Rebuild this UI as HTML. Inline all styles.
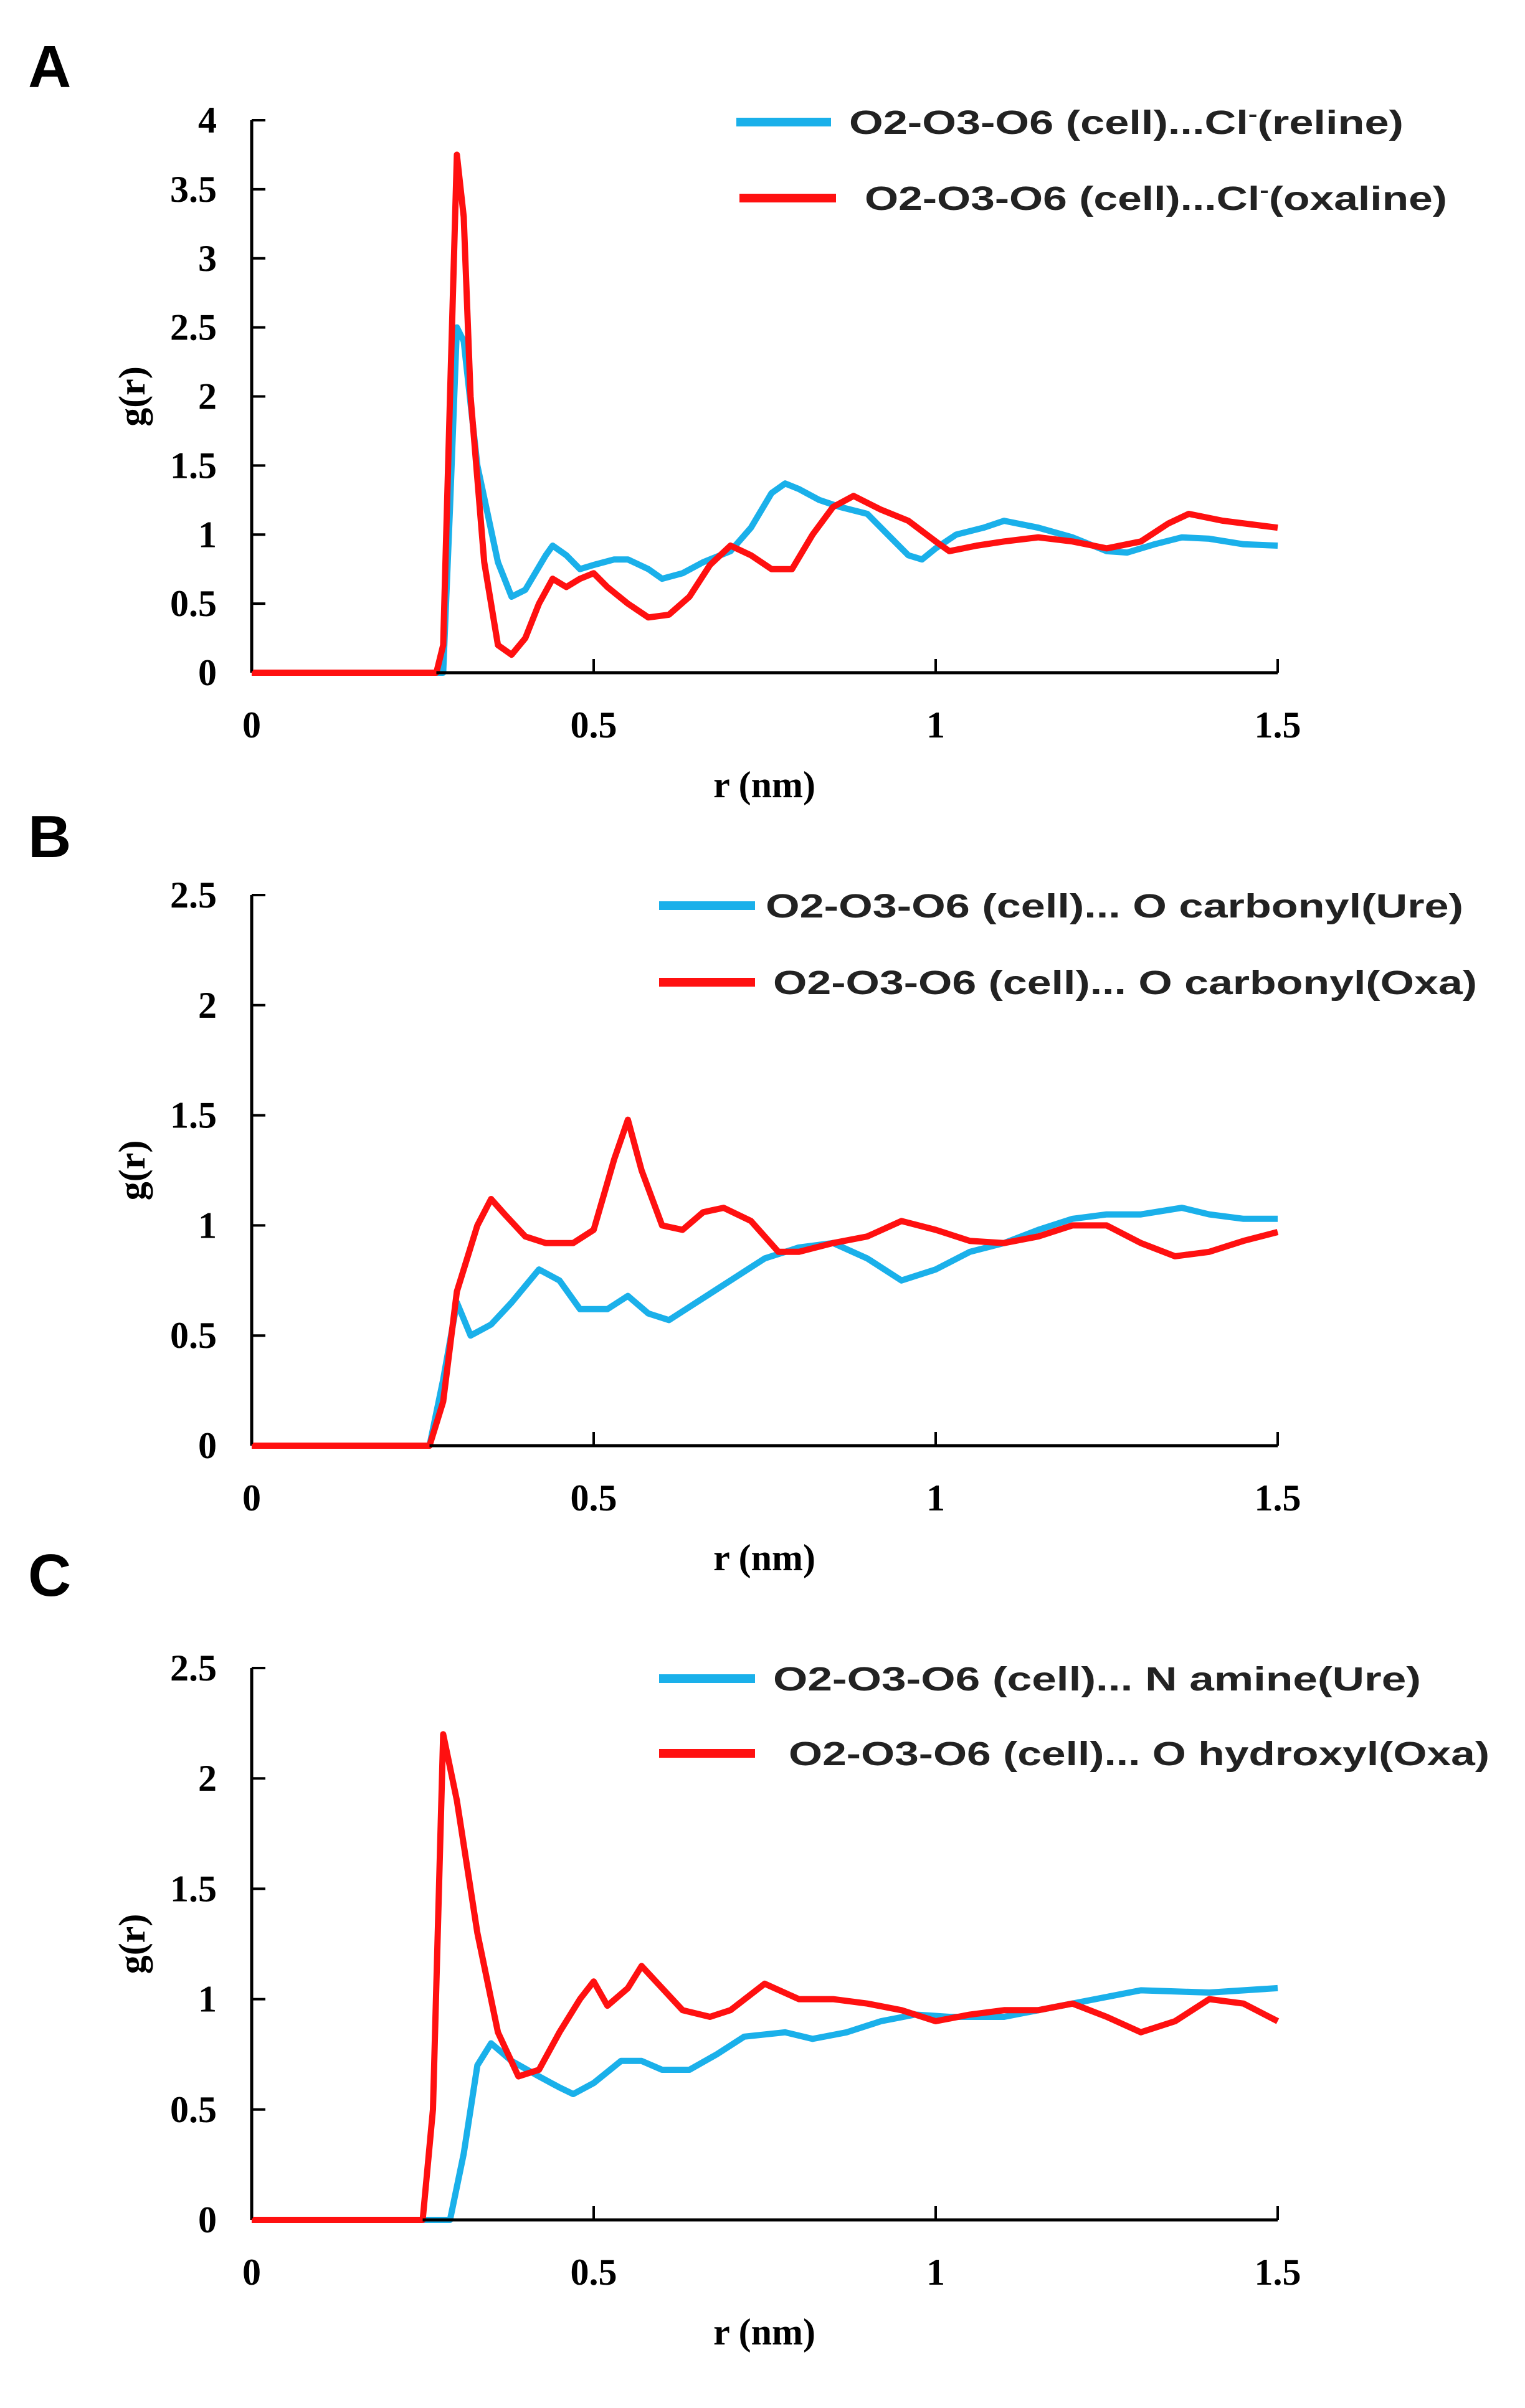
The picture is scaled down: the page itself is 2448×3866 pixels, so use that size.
<!DOCTYPE html>
<html><head><meta charset="utf-8"><style>
html,body{margin:0;padding:0;background:#fff;}
svg{display:block;}
.tick{font-family:"Liberation Serif",serif;font-weight:bold;font-size:60px;fill:#000;}
.ttl{font-family:"Liberation Serif",serif;font-weight:bold;font-size:60px;fill:#000;}
.leg{font-family:"Liberation Sans",sans-serif;font-weight:bold;font-size:54px;fill:#222;}
.let{font-family:"Liberation Sans",sans-serif;font-weight:bold;font-size:96px;fill:#000;}
</style></head><body>
<svg id="fig" width="2448" height="3866" viewBox="0 0 2448 3866" xmlns="http://www.w3.org/2000/svg"></svg>
<script>
// ---- data ----
const xTicks = [0, 0.5, 1, 1.5];
const xTickLabels = ["0", "0.5", "1", "1.5"];
const yTicksA = [0, 0.5, 1, 1.5, 2, 2.5, 3, 3.5, 4];
const yTicksBC = [0, 0.5, 1, 1.5, 2, 2.5];

const rA_reline = [0,0.28,0.29,0.30,0.31,0.33,0.36,0.38,0.40,0.43,0.44,0.46,0.48,0.5,0.53,0.55,0.58,0.6,0.63,0.66,0.7,0.73,0.76,0.78,0.8,0.83,0.86,0.9,0.93,0.96,0.98,1.0,1.03,1.07,1.1,1.15,1.2,1.25,1.28,1.32,1.36,1.4,1.45,1.5];
const gA_reline = [0,0,1.2,2.5,2.4,1.5,0.8,0.55,0.6,0.85,0.92,0.85,0.75,0.78,0.82,0.82,0.75,0.68,0.72,0.8,0.88,1.05,1.3,1.37,1.33,1.25,1.2,1.15,1.0,0.85,0.82,0.9,1.0,1.05,1.1,1.05,0.98,0.88,0.87,0.93,0.98,0.97,0.93,0.92];
const rA_oxaline = [0,0.27,0.28,0.29,0.30,0.31,0.32,0.34,0.36,0.38,0.40,0.42,0.44,0.46,0.48,0.50,0.52,0.55,0.58,0.61,0.64,0.67,0.7,0.73,0.76,0.79,0.82,0.85,0.88,0.92,0.96,1.0,1.02,1.06,1.1,1.15,1.2,1.25,1.3,1.34,1.37,1.42,1.5];
const gA_oxaline = [0,0,0.2,2.0,3.75,3.3,2.0,0.8,0.2,0.13,0.25,0.5,0.68,0.62,0.68,0.72,0.62,0.5,0.4,0.42,0.55,0.78,0.92,0.85,0.75,0.75,1.0,1.2,1.28,1.18,1.1,0.95,0.88,0.92,0.95,0.98,0.95,0.9,0.95,1.08,1.15,1.1,1.05];

const rB_ure = [0,0.26,0.28,0.30,0.32,0.35,0.38,0.42,0.45,0.48,0.52,0.55,0.58,0.61,0.65,0.7,0.75,0.8,0.85,0.9,0.95,1.0,1.05,1.1,1.15,1.2,1.25,1.3,1.36,1.4,1.45,1.5];
const gB_ure = [0,0,0.3,0.65,0.5,0.55,0.65,0.8,0.75,0.62,0.62,0.68,0.6,0.57,0.65,0.75,0.85,0.9,0.92,0.85,0.75,0.8,0.88,0.92,0.98,1.03,1.05,1.05,1.08,1.05,1.03,1.03];
const rB_oxa = [0,0.26,0.28,0.30,0.33,0.35,0.37,0.40,0.43,0.47,0.5,0.53,0.55,0.57,0.6,0.63,0.66,0.69,0.73,0.77,0.8,0.85,0.9,0.95,1.0,1.05,1.1,1.15,1.2,1.25,1.3,1.35,1.4,1.45,1.5];
const gB_oxa = [0,0,0.2,0.7,1.0,1.12,1.05,0.95,0.92,0.92,0.98,1.3,1.48,1.25,1.0,0.98,1.06,1.08,1.02,0.88,0.88,0.92,0.95,1.02,0.98,0.93,0.92,0.95,1.0,1.0,0.92,0.86,0.88,0.93,0.97];

const rC_ure = [0,0.29,0.31,0.33,0.35,0.38,0.42,0.45,0.47,0.5,0.54,0.57,0.6,0.64,0.68,0.72,0.78,0.82,0.87,0.92,0.97,1.02,1.1,1.2,1.3,1.4,1.5];
const gC_ure = [0,0,0.3,0.7,0.8,0.72,0.65,0.6,0.57,0.62,0.72,0.72,0.68,0.68,0.75,0.83,0.85,0.82,0.85,0.9,0.93,0.92,0.92,0.98,1.04,1.03,1.05];
const rC_oxa = [0,0.25,0.265,0.28,0.30,0.33,0.36,0.39,0.42,0.45,0.48,0.5,0.52,0.55,0.57,0.6,0.63,0.67,0.7,0.75,0.8,0.85,0.9,0.95,1.0,1.05,1.1,1.15,1.2,1.25,1.3,1.35,1.4,1.45,1.5];
const gC_oxa = [0,0,0.5,2.2,1.9,1.3,0.85,0.65,0.68,0.85,1.0,1.08,0.97,1.05,1.15,1.05,0.95,0.92,0.95,1.07,1.0,1.0,0.98,0.95,0.9,0.93,0.95,0.95,0.98,0.92,0.85,0.9,1.0,0.98,0.9];

const BLUE = "#1ab0ea", RED = "#ff1010";
const svg = document.getElementById('fig');
const NS = "http://www.w3.org/2000/svg";
function mk(tag, attrs, parent){
  const e = document.createElementNS(NS, tag);
  for (const k in attrs) e.setAttribute(k, attrs[k]);
  (parent||svg).appendChild(e);
  return e;
}

function panel(p){
  const g = mk('g', {});
  
  
  const x0 = 404, x1 = 2051;
  const xs = v => x0 + (v / 1.5) * (x1 - x0);
  const ys = v => p.y0 - (v / p.ymax) * (p.y0 - p.ytop);
  const lt = mk('text', {x: p.letX, y: p.letY, class: 'let'}, g);
  lt.textContent = p.id;
  
  
  const ya = mk('line', {x1: x0, y1: p.y0, x2: x0, y2: p.ytop, stroke: '#000', 'stroke-width': 5}, g);
  
  
  p.yt.forEach(v => {
    const y = ys(v);
    const t = mk('line', {x1: x0, y1: y, x2: x0 + 22, y2: y, stroke: '#000', 'stroke-width': 4}, g);
    
    
    const l = mk('text', {x: 348, y: y + 20, class: 'tick', 'text-anchor': 'end'}, g);
    l.textContent = String(v);
    
    
  });
  const yt = mk('text', {x: 0, y: 0, class: 'ttl', 'text-anchor': 'middle', transform: 'translate(232,' + ((p.y0 + p.ytop) / 2) + ') rotate(-90)'}, g);
  yt.textContent = 'g(r)';
  
  
  p.series.forEach(s => {
    const d = s.r.map((r, i) => (i ? 'L' : 'M') + xs(r).toFixed(1) + ',' + ys(s.g[i]).toFixed(1)).join(' ');
    const path = mk('path', {d: d, fill: 'none', stroke: s.color, 'stroke-width': 10, 'stroke-linejoin': 'round'}, g);
    
    
  });
  const xa = mk('line', {x1: x0, y1: p.y0, x2: x1, y2: p.y0, stroke: '#000', 'stroke-width': 5}, g);
  
  
  xTicks.forEach((v, i) => {
    const x = xs(v);
    const t = mk('line', {x1: x, y1: p.y0, x2: x, y2: p.y0 - 22, stroke: '#000', 'stroke-width': 4}, g);
    
    
    const l = mk('text', {x: x, y: p.y0 + 104, class: 'tick', 'text-anchor': 'middle'}, g);
    l.textContent = xTickLabels[i];
    
    
  });
  const base = p.series[p.series.length - 1];
  const zl = mk('line', {x1: x0, y1: p.y0, x2: xs(base.r[1]), y2: p.y0, stroke: RED, 'stroke-width': 5}, g);
  
  
  const xt = mk('text', {x: 1227, y: p.y0 + 200, class: 'ttl', 'text-anchor': 'middle'}, g);
  xt.textContent = 'r (nm)';
  
  
  p.legend.forEach(L => {
    const ll = mk('line', {x1: L.lx1, y1: L.y, x2: L.lx2, y2: L.y, stroke: L.color, 'stroke-width': 14}, g);
    
    
    const tx = mk('text', {x: L.tx, y: L.y + 19, class: 'leg', textLength: L.w, lengthAdjust: 'spacingAndGlyphs'}, g);
    tx.innerHTML = L.html;
    
    
  });
}

panel({id: 'A', letX: 45, letY: 140, y0: 1080, ytop: 193, ymax: 4, yt: yTicksA,
  series: [{r: rA_reline, g: gA_reline, color: BLUE, name: 'reline-line'}, {r: rA_oxaline, g: gA_oxaline, color: RED, name: 'oxaline-line'}],
  legend: [
    {lx1: 1182, lx2: 1334, y: 196, color: BLUE, tx: 1363, w: 890, html: 'O2-O3-O6 (cell)...Cl<tspan dy="-20" font-size="34">-</tspan><tspan dy="20">(reline)</tspan>'},
    {lx1: 1187, lx2: 1342, y: 318, color: RED, tx: 1388, w: 935, html: 'O2-O3-O6 (cell)...Cl<tspan dy="-20" font-size="34">-</tspan><tspan dy="20">(oxaline)</tspan>'}
  ]});
panel({id: 'B', letX: 45, letY: 1376, y0: 2321, ytop: 1437, ymax: 2.5, yt: yTicksBC,
  series: [{r: rB_ure, g: gB_ure, color: BLUE, name: 'ure-carbonyl-line'}, {r: rB_oxa, g: gB_oxa, color: RED, name: 'oxa-carbonyl-line'}],
  legend: [
    {lx1: 1058, lx2: 1212, y: 1454, color: BLUE, tx: 1229, w: 1120, html: 'O2-O3-O6 (cell)... O carbonyl(Ure)'},
    {lx1: 1058, lx2: 1212, y: 1577, color: RED, tx: 1241, w: 1130, html: 'O2-O3-O6 (cell)... O carbonyl(Oxa)'}
  ]});
panel({id: 'C', letX: 45, letY: 2562, y0: 3564, ytop: 2678, ymax: 2.5, yt: yTicksBC,
  series: [{r: rC_ure, g: gC_ure, color: BLUE, name: 'ure-amine-line'}, {r: rC_oxa, g: gC_oxa, color: RED, name: 'oxa-hydroxyl-line'}],
  legend: [
    {lx1: 1058, lx2: 1212, y: 2695, color: BLUE, tx: 1241, w: 1040, html: 'O2-O3-O6 (cell)... N amine(Ure)'},
    {lx1: 1058, lx2: 1212, y: 2815, color: RED, tx: 1266, w: 1125, html: 'O2-O3-O6 (cell)... O hydroxyl(Oxa)'}
  ]});
</script>
</body></html>
